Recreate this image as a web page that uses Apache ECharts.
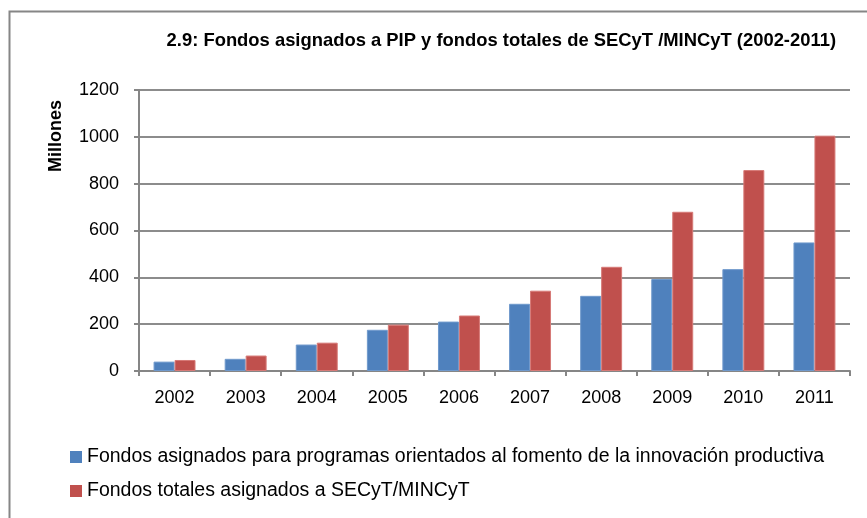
<!DOCTYPE html>
<html>
<head>
<meta charset="utf-8">
<script src="https://cdn.jsdelivr.net/npm/echarts@6/dist/echarts.min.js"></script>
<style>
  html, body { margin: 0; padding: 0; background: #fff; }
  #main { width: 867px; height: 518px; }
</style>
</head>
<body>
<div id="main"></div>
<script>
var years = ['2002', '2003', '2004', '2005', '2006', '2007', '2008', '2009', '2010', '2011']
var fondosPip = [40, 52, 113, 176, 211, 287, 321, 393, 435, 549]
var fondosTotales = [47, 66, 121, 198, 237, 343, 445, 680, 858, 1005]
var nombrePip = 'Fondos asignados para programas orientados al fomento de la innovación productiva'
var nombreTotal = 'Fondos totales asignados a SECyT/MINCyT'

var myChart = echarts.init(document.querySelector('#main'))

var font = '"Liberation Sans", Arial, sans-serif'

var option = {
  animation: false,
  textStyle: { fontFamily: font },
  title: {
    text: '2.9: Fondos asignados a PIP y fondos totales de SECyT /MINCyT (2002-2011)',
    right: 31,
    top: 32,
    padding: 0,
    textStyle: { fontSize: 18.4, fontWeight: 'bold', color: '#000', fontFamily: font }
  },
  graphic: [
    {
      // marco del grafico
      type: 'polyline',
      shape: { points: [[9.5, 518], [9.5, 11.5], [867, 11.5]] },
      style: { stroke: '#868686', lineWidth: 2, fill: null }
    },
    {
      type: 'text',
      x: 56,
      y: 136,
      rotation: Math.PI / 2,
      style: {
        text: 'Millones',
        font: 'bold 18px ' + font,
        fill: '#000',
        align: 'center',
        verticalAlign: 'middle'
      }
    }
  ],
  legend: {
    orient: 'vertical',
    left: 70,
    top: 447,
    padding: 0,
    itemWidth: 12,
    itemHeight: 12,
    itemGap: 14,
    icon: 'rect',
    itemStyle: { borderWidth: 0 },
    textStyle: { fontSize: 19.5, color: '#000' },
    data: [nombrePip, nombreTotal]
  },
  grid: {
    left: 139,
    right: 17,
    top: 90,
    bottom: 147
  },
  xAxis: {
    type: 'category',
    data: years,
    axisLine: { lineStyle: { color: '#868686', width: 2 } },
    axisTick: { show: true, length: 5, lineStyle: { color: '#868686', width: 2 } },
    axisLabel: { fontSize: 18, color: '#000', margin: 18 }
  },
  yAxis: {
    type: 'value',
    min: 0,
    max: 1200,
    interval: 200,
    axisLine: { show: true, lineStyle: { color: '#868686', width: 2 } },
    axisTick: { show: true, length: 5, lineStyle: { color: '#868686', width: 2 } },
    axisLabel: { fontSize: 18, color: '#000', margin: 20, formatter: function (v) { return String(v) } },
    splitLine: { lineStyle: { color: '#8c8c8c', width: 2 } }
  },
  series: [
    {
      name: nombrePip,
      type: 'bar',
      data: fondosPip,
      barGap: '0%',
      barCategoryGap: '41%',
      itemStyle: { color: '#4F81BD', borderColor: '#6f99cc', borderWidth: 1 }
    },
    {
      name: nombreTotal,
      type: 'bar',
      data: fondosTotales,
      barGap: '0%',
      barCategoryGap: '41%',
      itemStyle: { color: '#C0504D', borderColor: '#d77a77', borderWidth: 1 }
    }
  ]
}

myChart.setOption(option)
</script>
</body>
</html>
